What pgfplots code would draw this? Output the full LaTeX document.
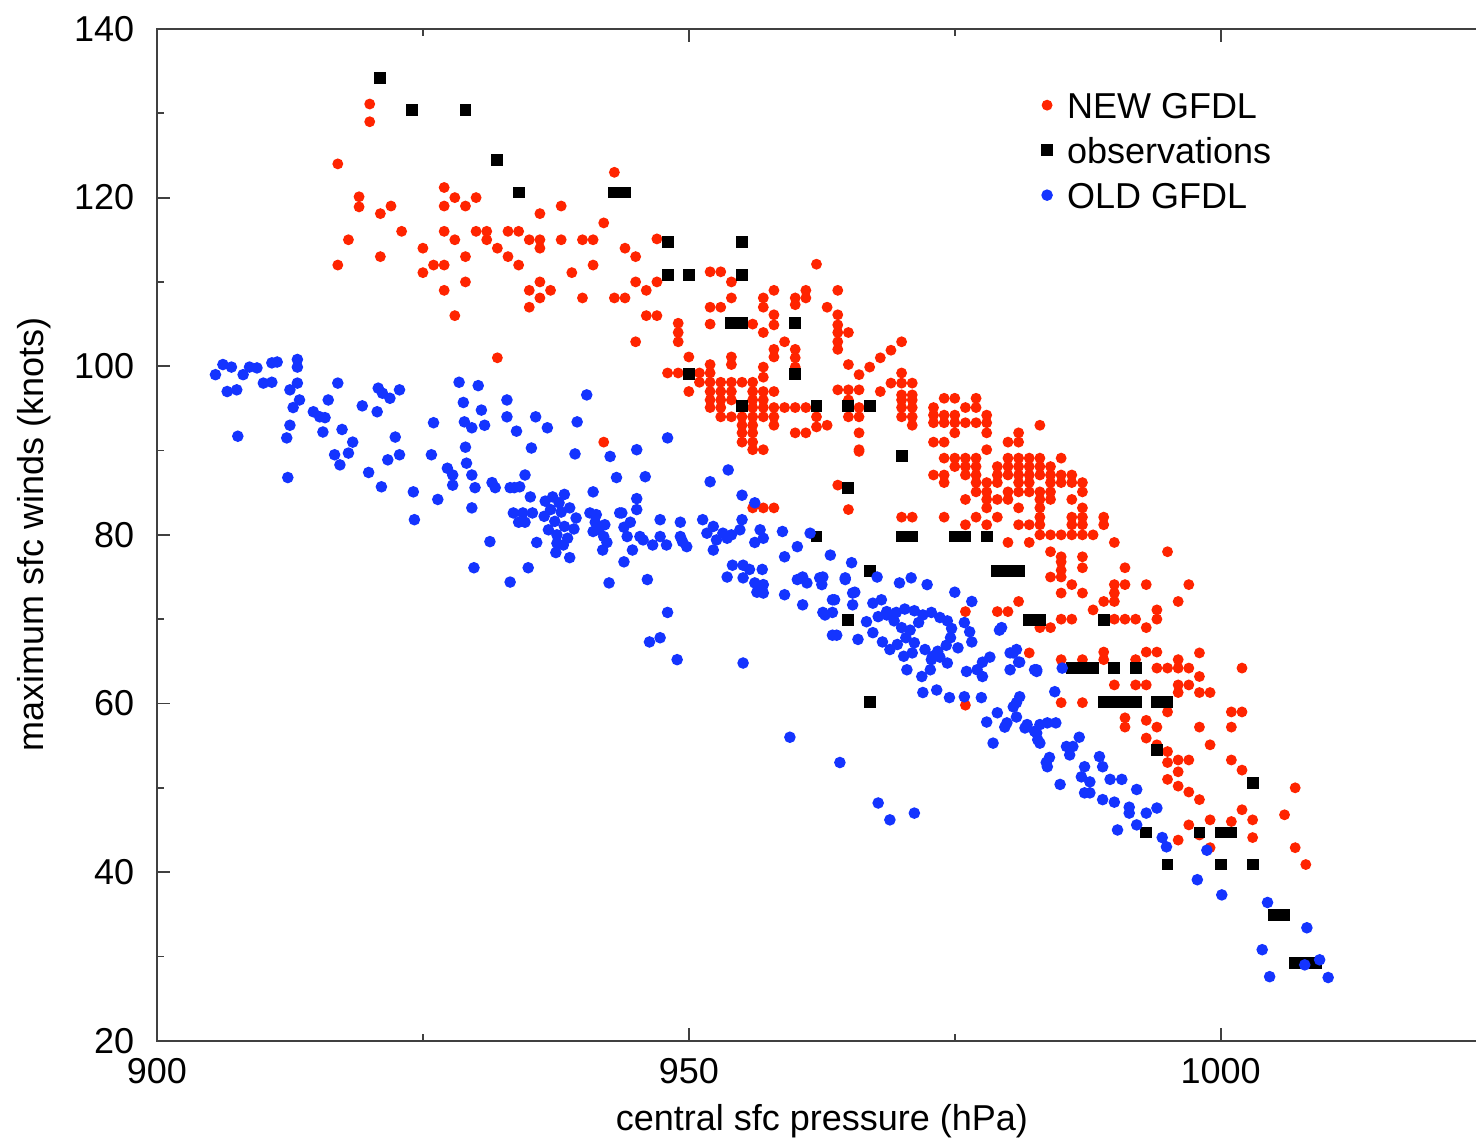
\documentclass[border=0pt]{standalone}
\usepackage{fontspec}
\setmainfont{Liberation Sans}
\usepackage{pgfplots}
\pgfplotsset{compat=1.18}
\definecolor{gfred}{RGB}{255,36,0}
\definecolor{gfblue}{RGB}{20,52,255}
\begin{document}
\begin{tikzpicture}
\begin{axis}[name=ax, scale only axis, width=369.44pt, height=281.11pt,
 xmin=900, xmax=1025, ymin=20, ymax=140,
 xtick={900,950,1000}, minor xtick={925,975},
 ytick={20,40,...,140}, minor ytick={30,50,...,130},
 ytick pos=left, tick align=inside, major tick length=3.6pt, minor tick length=2pt,
 axis line style={black!75, line width=0.6pt},
 every tick/.style={black!75, line width=0.5pt},
 /pgf/number format/assume math mode=true,
 /pgf/number format/1000 sep={},
 ticklabel style={font=\fontsize{10}{12}\selectfont},
 yticklabel style={xshift=-2.8pt},
 xticklabel style={yshift=-1.4pt},
 xlabel={central sfc pressure (hPa)}, ylabel={maximum sfc winds (knots)},
 xlabel style={at={(axis description cs:0.5,-0.0623)}, anchor=north, inner sep=0pt, font=\fontsize{10}{12}\selectfont},
 ylabel style={at={(axis description cs:-0.079,0.5)}, anchor=south, inner sep=0pt, font=\fontsize{10}{12}\selectfont},
 legend style={draw=none, fill=none, at={(0.6655,0.9375)}, anchor=north west, inner sep=0pt, outer sep=0pt,
   row sep=5.3pt, column sep=4.1pt,
   nodes={inner sep=0pt, text height=7.2pt, text depth=0pt, font=\fontsize{10}{12}\selectfont},
   cells={anchor=west}},
 legend image code/.code={\draw[#1] plot coordinates {(0pt,0pt)};},
]
\addplot[only marks, mark=*, mark size=1.3pt, color=gfred] table {
x y
920 131.1
920 129.0
917 124.0
919 120.1
919 118.9
922 119.0
921 118.1
918 115.0
923 116.0
921 113.0
917 112.0
927 121.2
928 120.0
930 120.0
927 119.0
929 119.0
936 118.1
938 119.0
942 117.0
943 123.0
927 116.0
928 115.0
930 116.0
931 116.0
931 115.0
933 116.0
934 116.0
935 115.0
936 115.0
936 114.0
938 115.0
940 115.0
941 115.0
925 114.0
929 113.0
932 114.0
933 113.0
934 112.0
926 112.0
927 112.0
925 111.1
929 110.0
927 109.0
936 110.0
935 109.0
937 109.0
936 108.1
935 107.0
928 106.0
941 112.0
939 111.1
940 108.1
944 114.0
945 113.0
945 110.0
946 109.0
943 108.1
944 108.1
946 106.0
947 106.0
945 102.9
932 101.0
947 115.1
947 110.0
949 105.1
949 104.0
949 102.9
952 111.2
953 111.2
954 110.0
954 108.1
952 107.0
953 107.0
952 105.0
956 105.0
957 104.0
957 108.1
957 107.0
958 106.1
958 109.0
958 104.9
960 108.1
960 107.3
961 109.0
961 108.1
962 112.1
963 107.0
964 109.0
964 106.1
964 104.9
964 104.0
964 102.9
964 102.0
965 104.0
958 102.0
958 101.1
959 102.9
960 102.0
960 101.0
960 99.9
957 99.9
957 98.7
966 99.0
967 99.9
968 101.0
969 101.9
970 102.9
969 98.0
970 99.2
970 98.0
971 98.0
968 97.0
970 96.0
970 95.1
971 96.0
971 95.1
971 94.0
971 93.0
970 94.0
964 97.2
965 97.2
966 97.2
965 96.0
966 95.1
966 94.0
966 92.1
966 90.1
965 100.2
962 94.0
962 92.8
963 93.0
959 95.1
960 95.1
961 95.1
960 92.1
961 92.1
958 97.0
950 101.1
954 101.1
952 100.2
954 100.2
948 99.2
949 99.2
951 99.2
952 99.2
951 98.1
952 98.1
953 98.1
954 98.1
955 98.1
956 98.1
950 97.0
952 97.0
953 97.0
954 97.0
956 97.0
957 97.0
952 96.0
953 96.0
954 96.0
956 96.0
957 96.0
952 95.1
953 95.1
956 95.1
957 95.1
958 95.1
953 94.0
954 94.0
955 94.0
956 94.0
957 94.0
958 94.0
955 93.0
956 93.0
958 93.0
955 92.1
956 92.1
955 91.0
956 91.0
956 90.1
957 90.1
942 91.0
956 83.2
957 83.2
958 83.2
964 85.9
965 83.0
966 89.9
965 94.0
965 95.7
974 96.2
975 96.2
977 96.2
970 96.6
971 96.6
973 95.1
976 95.1
977 95.1
973 94.2
974 94.2
975 94.2
978 94.2
973 93.3
974 93.3
975 93.3
976 93.3
977 93.3
978 93.3
983 93.0
975 92.1
978 92.1
981 92.1
973 91.0
974 91.0
980 91.0
981 91.0
978 90.1
974 89.1
975 89.1
976 89.1
977 89.1
980 89.1
981 89.1
982 89.1
983 89.1
985 89.1
975 88.1
976 88.1
977 88.1
979 88.1
980 88.1
981 88.1
982 88.1
983 88.1
984 88.1
973 87.1
974 87.1
976 87.1
977 87.1
979 87.1
980 87.1
981 87.1
982 87.1
983 87.1
984 87.1
985 87.1
986 87.1
974 86.2
977 86.2
978 86.2
979 86.2
981 86.2
982 86.2
984 86.2
985 86.2
986 86.2
987 86.2
977 85.1
978 85.1
980 85.1
981 85.1
982 85.1
983 85.1
984 85.1
987 85.1
976 84.2
978 84.2
979 84.2
980 84.2
983 84.2
984 84.2
986 84.2
978 83.2
981 83.2
983 83.2
987 83.2
970 82.1
971 82.1
974 82.1
977 82.1
979 82.1
983 82.1
986 82.1
987 82.1
989 82.1
976 81.2
978 81.2
981 81.2
982 81.2
983 81.2
986 81.2
987 81.2
989 81.2
983 80.0
984 80.0
985 80.0
986 80.0
987 80.0
988 80.0
980 79.1
982 79.1
990 79.1
984 78.0
995 78.0
985 77.4
987 77.4
985 76.8
985 75.8
984 75.0
985 75.0
987 76.1
991 76.1
986 74.1
985 73.1
987 73.1
990 74.1
991 74.1
990 73.1
990 72.1
989 72.1
993 74.1
997 74.1
996 72.1
981 72.1
976 70.9
979 70.9
980 70.9
988 71.1
994 71.1
994 70.0
985 70.0
986 70.0
990 70.0
991 70.0
992 70.0
983 69.0
984 69.0
993 69.0
982 66.0
989 66.1
989 65.2
993 66.1
994 66.1
998 66.0
985 65.2
987 65.2
992 65.2
996 65.2
994 64.2
995 64.2
996 64.2
997 64.2
1002 64.2
998 63.2
990 62.2
992 62.2
993 62.2
996 62.2
997 62.2
996 61.3
998 61.3
999 61.3
985 60.1
987 60.1
976 59.8
995 59.0
1001 59.0
1002 59.0
991 58.3
991 57.2
993 58.0
994 57.2
998 57.2
1001 57.2
993 55.9
994 55.1
995 54.3
996 53.3
995 53.0
996 51.9
995 51.0
996 50.2
997 49.5
999 55.1
1001 53.3
1002 52.1
998 48.6
999 46.2
1001 46.0
1002 47.4
1003 46.2
1003 44.1
997 45.6
998 44.4
996 43.8
999 42.9
1006 46.8
1007 50.0
1007 42.9
1008 40.9
997 53.3
};
\addlegendentry{NEW GFDL}
\addplot[only marks, mark=square*, mark size=1.45pt, color=black] table {
x y
921 134.2
924 130.4
929 130.4
932 124.5
934 120.6
943 120.6
944 120.6
948 114.7
955 114.7
948 110.8
950 110.8
955 110.8
954 105.1
955 105.1
960 105.1
950 99.1
960 99.1
955 95.3
962 95.3
965 95.3
967 95.3
970 89.4
965 85.6
962 79.8
970 79.8
971 79.8
975 79.8
976 79.8
978 79.8
979 75.7
980 75.7
981 75.7
967 75.7
965 69.9
982 69.9
983 69.9
989 69.9
986 64.2
987 64.2
988 64.2
990 64.2
992 64.2
967 60.2
989 60.2
990 60.2
991 60.2
992 60.2
994 60.2
995 60.2
994 54.5
993 44.7
998 44.7
1000 44.7
1001 44.7
995 40.9
1000 40.9
1003 40.9
1003 50.6
1005 34.9
1006 34.9
1007 29.2
1008 29.2
1009 29.2
};
\addlegendentry{observations}
\addplot[only marks, mark=*, mark size=1.4pt, color=gfblue] table {
x y
905.5 99.0
906.2 100.2
907.0 99.9
908.7 99.9
909.4 99.8
910.8 100.4
911.3 100.5
913.2 100.8
913.2 99.9
908.1 99.0
906.6 97.0
907.5 97.2
910.0 98.0
910.8 98.1
912.5 97.2
913.2 98.0
913.4 96.0
912.8 95.1
916.1 96.0
917.0 98.0
914.7 94.6
915.3 94.0
915.8 93.9
912.5 93.0
912.2 91.5
907.6 91.7
915.6 92.2
917.4 92.5
918.4 91.0
916.7 89.5
917.2 88.3
918.0 89.7
912.3 86.8
919.3 95.3
920.7 94.6
920.8 97.4
921.2 96.8
921.9 96.2
922.8 97.2
922.4 91.6
922.8 89.5
921.7 88.9
919.9 87.4
921.1 85.7
924.1 85.1
924.2 81.8
926.0 93.3
925.8 89.5
926.4 84.2
928.4 98.1
930.2 97.7
928.8 95.7
930.5 94.8
928.9 93.4
929.6 92.7
930.8 93.0
929.0 90.4
929.1 88.5
929.6 87.1
927.3 87.9
927.8 87.1
927.8 85.9
929.9 85.6
929.6 83.2
931.3 79.2
929.8 76.1
933.2 74.4
934.9 76.1
932.9 96.0
932.9 94.0
933.8 92.3
935.2 90.3
935.6 94.0
936.7 92.7
934.6 87.1
939.5 93.4
940.4 96.6
939.3 89.6
931.5 86.2
931.8 85.6
933.2 85.6
933.6 85.6
934.1 85.7
935.1 84.5
933.5 82.6
934.4 82.6
935.3 82.6
934.0 81.5
934.6 81.5
936.5 84.0
937.2 84.5
937.8 83.8
938.3 84.8
937.0 83.0
938.0 82.7
938.8 83.2
939.4 82.0
936.4 82.2
937.4 81.6
938.3 81.0
939.2 80.7
936.8 80.6
937.6 80.0
938.6 79.6
941.0 85.1
940.7 82.6
941.3 82.4
941.2 81.5
941.5 80.6
942.0 79.8
942.3 79.1
942.6 89.3
943.2 86.8
943.7 82.6
943.9 80.9
943.9 76.8
942.5 74.3
937.6 79.0
938.2 78.8
937.5 77.9
938.8 77.3
935.7 79.1
945.1 90.1
945.9 86.9
945.1 84.3
948.0 91.5
952.0 86.3
953.7 87.7
955.0 84.7
956.2 83.8
942.1 81.2
941.0 80.4
941.9 78.2
943.5 82.6
944.5 81.5
945.1 83.0
944.2 79.8
945.4 79.8
944.7 78.2
946.1 74.7
947.3 81.8
949.2 81.5
947.3 79.8
949.2 79.8
945.7 79.4
946.6 78.8
947.9 78.8
949.4 79.2
949.8 78.6
951.3 81.8
952.3 81.0
951.7 80.2
953.2 80.2
954.0 80.0
955.0 81.8
954.8 80.6
953.6 79.6
952.6 79.4
952.3 78.2
956.7 80.6
957.0 79.6
956.2 79.1
958.8 80.4
961.4 80.2
960.2 78.6
963.3 77.6
959.0 77.4
954.1 76.4
955.1 76.4
955.7 75.9
956.9 75.9
953.6 75.0
955.1 74.9
956.2 74.3
957.0 74.1
956.4 73.2
957.0 73.1
960.7 75.0
960.2 74.7
961.1 74.3
962.3 74.9
962.5 74.1
959.0 72.9
960.7 71.7
963.5 72.3
962.6 70.8
963.5 70.8
964.7 74.9
965.3 76.7
963.9 68.1
965.9 67.6
965.4 73.1
965.4 71.7
967.7 75.0
969.8 74.3
970.9 74.9
972.4 74.1
966.7 69.7
967.8 70.3
968.6 70.5
967.3 68.4
968.2 67.3
968.9 66.4
969.5 70.8
970.3 71.2
971.2 71.0
972.0 70.5
972.8 70.8
973.6 70.2
974.3 69.8
974.7 68.9
974.6 67.8
974.2 66.9
973.4 66.2
969.3 69.8
970.0 69.0
970.8 68.7
971.6 69.6
970.4 67.8
971.2 67.2
969.6 67.0
972.2 66.4
971.0 66.0
970.2 65.6
972.9 65.6
967.3 71.9
968.1 72.3
975.0 73.2
976.6 72.1
975.9 69.6
976.4 68.5
976.6 67.3
975.3 66.6
970.5 64.0
971.9 63.2
972.8 65.2
973.6 65.5
974.3 64.8
972.7 64.0
972.0 61.3
973.3 61.6
974.5 60.7
975.9 60.8
977.5 60.7
977.6 64.9
978.3 65.5
977.1 64.0
976.1 63.8
977.6 63.2
979.2 68.7
980.2 66.0
980.8 66.4
980.2 64.0
981.1 64.9
978.0 57.8
978.6 55.3
979.0 58.9
979.7 57.2
980.8 60.1
981.1 60.8
981.8 57.5
982.7 56.5
983.0 55.3
983.6 53.0
982.7 63.8
959.5 56.0
964.2 53.0
967.8 48.2
968.9 46.2
971.2 47.0
955.1 64.8
948.9 65.2
946.3 67.3
947.3 67.8
948.0 70.8
962.6 75.0
964.7 74.7
965.6 73.2
963.7 72.3
962.8 70.5
963.5 68.1
968.6 70.9
979.4 69.0
980.5 66.0
981.0 64.9
982.7 64.0
984.4 61.4
980.5 59.6
980.8 58.4
979.9 57.7
981.6 57.1
982.5 56.7
983.0 57.5
983.7 57.7
984.5 57.7
982.8 55.7
986.7 56.0
986.1 54.9
985.5 54.9
985.8 53.9
983.9 53.6
983.7 52.5
984.9 50.4
987.2 52.5
986.9 51.3
987.7 50.7
988.6 53.7
988.9 52.5
989.6 51.0
990.7 51.0
987.7 49.4
987.2 49.4
988.9 48.6
990.0 48.3
991.4 47.7
991.4 47.0
992.1 49.8
990.3 45.0
992.1 45.6
993.0 47.0
994.0 47.6
994.5 44.1
994.9 43.0
998.7 42.6
997.8 39.1
1000.1 37.3
1004.4 36.4
1008.1 33.4
1003.9 30.8
1004.6 27.6
1007.9 29.0
1009.3 29.6
1010.1 27.5
985.1 64.2
982.5 64.0
};
\addlegendentry{OLD GFDL}
\end{axis}
\pgfresetboundingbox
\path[use as bounding box] ([xshift=-43.61pt,yshift=-27.78pt]ax.south west) rectangle ([xshift=-2.956pt,yshift=8.06pt]ax.north east);
\end{tikzpicture}
\end{document}
